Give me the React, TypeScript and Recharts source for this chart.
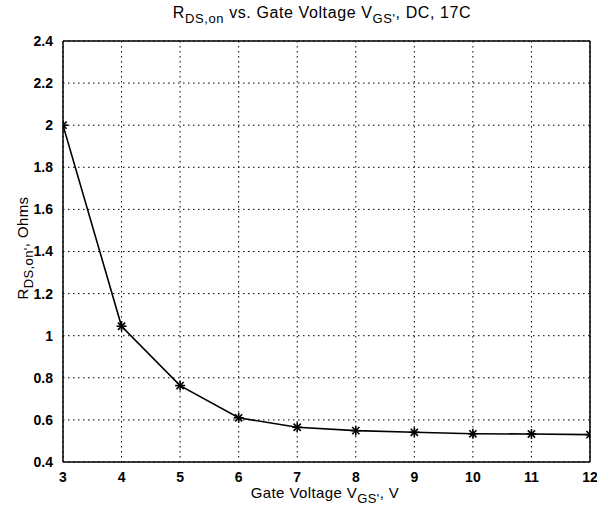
import React from "react";
import {
  LineChart, Line, XAxis, YAxis, CartesianGrid, ReferenceLine,
} from "recharts";

// gate voltage, V
const gateVoltage = [3, 4, 5, 6, 7, 8, 9, 10, 11, 12];
// R_DS,on, Ohms
const rdsOn = [2.0, 1.045, 0.763, 0.61, 0.565, 0.549, 0.541, 0.534, 0.533, 0.53];

const xTicks = [3, 4, 5, 6, 7, 8, 9, 10, 11, 12];
const yTicks = [0.4, 0.6, 0.8, 1, 1.2, 1.4, 1.6, 1.8, 2, 2.2, 2.4];

const data = gateVoltage.map((v, i) => ({ v, r: rdsOn[i] }));

const FONT = "'Liberation Sans', Arial, Helvetica, sans-serif";

const Star = (props: any) => {
  const { cx, cy } = props;
  if (cx == null || cy == null) return null;
  const s = 5;
  const d = 3.6;
  return (
    <g stroke="#000" strokeWidth={1.6}>
      <line x1={cx - s} y1={cy} x2={cx + s} y2={cy} />
      <line x1={cx} y1={cy - s} x2={cx} y2={cy + s} />
      <line x1={cx - d} y1={cy - d} x2={cx + d} y2={cy + d} />
      <line x1={cx - d} y1={cy + d} x2={cx + d} y2={cy - d} />
    </g>
  );
};

const tickStyle = { fill: "#000", fontSize: 14, fontWeight: 700, fontFamily: FONT };

export default function App() {
  return (
    <div style={{ position: "absolute", left: 0, top: 0, width: 597, height: 518, background: "#fff" }}>
      <LineChart
        width={597}
        height={518}
        data={data}
        margin={{ top: 41, right: 7, bottom: 26, left: 23 }}
      >
        <CartesianGrid stroke="#000" strokeDasharray="1.5 3.5" />
        <XAxis
          dataKey="v"
          type="number"
          domain={[3, 12]}
          ticks={xTicks}
          allowDataOverflow
          height={30}
          stroke="#000"
          strokeWidth={1.5}
          tickLine={false}
          tickMargin={4}
          tick={tickStyle}
          interval={0}
        />
        <YAxis
          type="number"
          domain={[0.4, 2.4]}
          ticks={yTicks}
          allowDataOverflow
          width={40}
          stroke="#000"
          strokeWidth={1.5}
          tickLine={false}
          tickMargin={4}
          tick={tickStyle}
          interval={0}
          tickFormatter={(t: number) => String(Number(t.toFixed(1)))}
        />
        <ReferenceLine y={2.4} stroke="#000" strokeWidth={1.5} />
        <ReferenceLine x={12} stroke="#000" strokeWidth={1.5} />
        <Line
          dataKey="r"
          type="linear"
          stroke="#000"
          strokeWidth={1.6}
          dot={<Star />}
          activeDot={false}
          isAnimationActive={false}
        />
      </LineChart>
      <svg
        width={597}
        height={518}
        style={{ position: "absolute", left: 0, top: 0, pointerEvents: "none" }}
        fontFamily={FONT}
      >
        <text x={322} y={18} textAnchor="middle" fontSize={16} letterSpacing={0.6} fill="#000">
          <tspan>R</tspan>
          <tspan fontSize={13} dy={5}>DS,on</tspan>
          <tspan dy={-5}> vs. Gate Voltage V</tspan>
          <tspan fontSize={13} dy={5}>GS'</tspan>
          <tspan dy={-5}>, DC, 17C</tspan>
        </text>
        <text x={325} y={498} textAnchor="middle" fontSize={15} letterSpacing={0.4} fill="#000">
          <tspan>Gate Voltage V</tspan>
          <tspan fontSize={13} dy={5}>GS'</tspan>
          <tspan dy={-5}>, V</tspan>
        </text>
        <text
          x={0}
          y={0}
          textAnchor="middle"
          fontSize={15}
          letterSpacing={0.4}
          fill="#000"
          transform="translate(28 248) rotate(-90)"
        >
          <tspan>R</tspan>
          <tspan fontSize={13} dy={5}>DS,on'</tspan>
          <tspan dy={-5}>, Ohms</tspan>
        </text>
      </svg>
    </div>
  );
}
